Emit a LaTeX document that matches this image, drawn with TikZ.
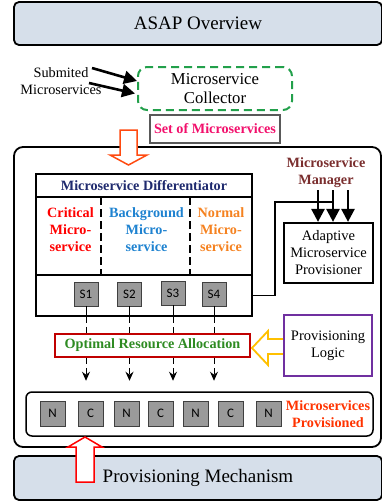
\documentclass[tikz,border=0pt]{standalone}
\usepackage{fontspec}
\setmainfont{Liberation Serif}
\newfontfamily\calfont{Carlito}
\usetikzlibrary{arrows.meta}

\definecolor{bannerfill}{HTML}{D6DFEA}
\definecolor{collgreen}{HTML}{22A04B}
\definecolor{setpink}{HTML}{F2106C}
\definecolor{diffnavy}{HTML}{1F2A6E}
\definecolor{critred}{HTML}{FF0000}
\definecolor{bgblue}{HTML}{1E82D0}
\definecolor{normorange}{HTML}{F58220}
\definecolor{mgrbrown}{HTML}{7A2E2E}
\definecolor{oraborder}{HTML}{C00000}
\definecolor{oragreen}{HTML}{2E8B22}
\definecolor{logicyellow}{HTML}{FFC000}
\definecolor{logicpurple}{HTML}{7030A0}
\definecolor{provred}{HTML}{FF3300}
\definecolor{downorange}{HTML}{FF4A10}
\definecolor{cellgray}{HTML}{9A9A9A}

\begin{document}
\begin{tikzpicture}[x=1pt,y=-1pt,
  banner/.style={draw, line width=1.8pt, rounded corners=5pt, fill=bannerfill,
    minimum width=368pt, minimum height=43pt, inner sep=0pt,
    font=\fontsize{19}{22}\selectfont},
  boldtxt/.style={font=\fontsize{14.2}{17}\selectfont\bfseries, align=center, inner sep=0pt},
  plaintxt/.style={font=\fontsize{14.5}{17}\selectfont, align=center, inner sep=0pt},
  cell/.style={draw=black!75, line width=0.9pt, fill=cellgray, minimum width=24pt,
    minimum height=24pt, inner sep=0pt, font=\calfont\fontsize{13}{14}\selectfont},
  partbox/.style={draw, line width=1.5pt, minimum width=216pt, inner sep=0pt},
  thickarrow/.style={line width=2.6pt, -{Triangle[width=13pt,length=13pt]}},
  droparrow/.style={line width=0.9pt, dash pattern=on 6pt off 4pt,
    -{Stealth[width=8pt,length=9pt]}},
  dropline/.style={line width=0.9pt, dash pattern=on 6pt off 4pt}
]
\useasboundingbox (0,0) rectangle (382,501);
\clip (0,0) rectangle (382,501);

% title banner
\node[banner] (top) at (198,23.5) {ASAP Overview};

% submitted microservices feeding the collector
\node[font=\fontsize{14.3}{17}\selectfont, align=center, inner sep=0pt] (sub) at (61,81.5)
  {Submited\\Microservices};
\node[draw=collgreen, line width=2pt, dash pattern=on 8pt off 5pt, rounded corners=9pt,
  minimum width=154pt, minimum height=43pt, align=center, inner sep=0pt,
  font=\fontsize{16.7}{18.5}\selectfont] (coll) at (215,88.5) {Microservice\\Collector};
\coordinate (s1a) at (92,68);
\coordinate (s2a) at (89,83);
\coordinate (c1) at (137,81);
\coordinate (c2) at (135,93.5);
\draw[thickarrow] (s1a) -- (c1);
\draw[thickarrow] (s2a) -- (c2);

\node[draw=black!65, line width=1.3pt, minimum width=130pt, minimum height=28pt,
  text=setpink, boldtxt] (set) at (215,129) {Set of Microservices};

% main frame
\draw[line width=1.8pt, rounded corners=9pt] (14,147) rectangle (381,447);

% arrow from the set into the frame
\draw[downorange, line width=1.5pt, fill=white]
  (120,130) -- (137,130) -- (137,155) -- (147,155) -- (128.5,165)
  -- (110,155) -- (120,155) -- cycle;

% differentiator
\node[partbox, minimum height=23pt, text=diffnavy, boldtxt] (dhead) at (144,185.5)
  {Microservice Differentiator};
\node[partbox, minimum height=78pt] (dmid) at (144,236) {};
\node[partbox, minimum height=41pt] (dbot) at (144,295.5) {};
\draw[line width=1.5pt, dash pattern=on 8pt off 4pt] (101,197) -- (101,275);
\draw[line width=1.5pt, dash pattern=on 8pt off 4pt] (190,197) -- (190,275);
\node[boldtxt, text=critred] (crit) at (70.5,230) {Critical\\Micro-\\service};
\node[boldtxt, text=bgblue] (bgnd) at (146.5,230) {Background\\Micro-\\service};
\node[boldtxt, text=normorange] (norm) at (221,230) {Normal\\Micro-\\service};

\node[cell] (S1) at (86,294) {S1};
\node[cell] (S2) at (129.5,294) {S2};
\node[cell] (S3) at (173,293) {S3};
\node[cell] (S4) at (214,294) {S4};

% manager and provisioner
\node[boldtxt, text=mgrbrown] (mgr) at (326,172.5) {Microservice\\Manager};
\node[draw, line width=2.2pt, minimum width=89pt, minimum height=60pt, plaintxt] (amp)
  at (328.5,253) {Adaptive\\Microservice\\Provisioner};
\coordinate (m1) at (318,190);
\coordinate (m2) at (333,190);
\coordinate (m3) at (348,190);
\draw[thickarrow] (m1) -- (m1 |- amp.north);
\draw[thickarrow] (m2) -- (m2 |- amp.north);
\draw[thickarrow] (m3) -- (m3 |- amp.north);
\coordinate (bend) at (275,202);
\draw[line width=1.2pt] (dbot.east) -| (bend) -- (m2 |- bend);

% allocation and provisioning logic
\node[draw=oraborder, line width=1.5pt, minimum width=195pt, minimum height=23pt,
  text=oragreen, boldtxt] (ora) at (152.5,345.5) {Optimal Resource Allocation};
\draw[logicyellow, line width=1.8pt, fill=white]
  (284,339) -- (268,339) -- (268,331) -- (252,348) -- (268,365) -- (268,354) -- (284,354);
\node[draw=logicpurple, line width=2.2pt, minimum width=88pt, minimum height=61pt,
  plaintxt, fill=white] (logic) at (328,345.5) {Provisioning\\Logic};

% flows from the services through the allocation
\foreach \s in {S1,S2,S3,S4}{
  \draw[line width=0.9pt] (\s.south) -- (\s |- dbot.south);
  \draw[dropline] (\s |- dbot.south) -- (\s |- ora.north);
  \coordinate (\s tip) at ([yshift=-23pt]\s |- ora.south);
  \draw[droparrow] (\s |- ora.south) -- (\s tip);
}

% provisioned microservices
\node[draw, line width=1.5pt, rounded corners=6pt, minimum width=347pt,
  minimum height=44pt] (prov) at (199.5,414) {};
\node[cell, minimum size=25pt] (p1) at (52.5,413.5) {N};
\node[cell, minimum size=25pt] (p2) at (90.5,413.5) {C};
\node[cell, minimum size=25pt] (p3) at (126.5,413.5) {N};
\node[cell, minimum size=25pt] (p4) at (160.5,413.5) {C};
\node[cell, minimum size=25pt] (p5) at (195.5,413.5) {N};
\node[cell, minimum size=25pt] (p6) at (230.5,413.5) {C};
\node[cell, minimum size=25pt] (p7) at (268.5,413.5) {N};
\node[boldtxt, text=provred] (provtxt) at (328,414.5) {Microservices\\Provisioned};

% bottom banner and the upward arrow
\node[banner, minimum height=44pt] (bot) at (198,478) {Provisioning Mechanism};
\draw[red, line width=1.5pt, fill=white]
  (76,482) -- (76,447) -- (68,447) -- (85,437) -- (102,447) -- (94,447) -- (94,482) -- cycle;
\end{tikzpicture}
\end{document}
